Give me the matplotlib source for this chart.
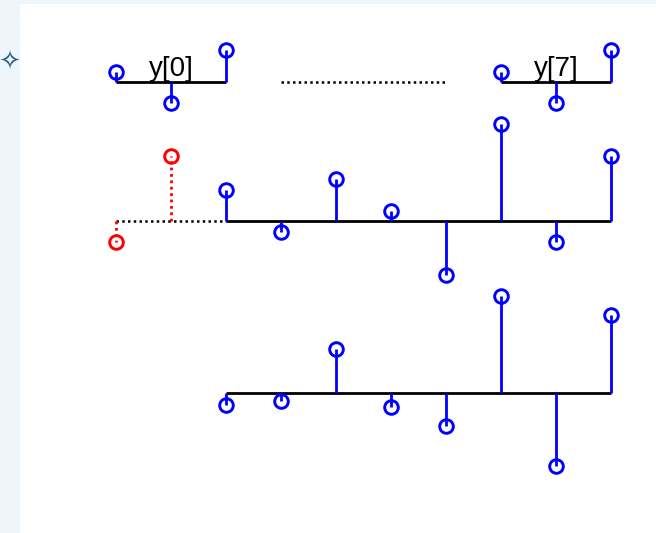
import matplotlib.pyplot as plt
import numpy as np

# sample indices and amplitudes
n_top_a = [0, 1, 2]
n_top_b = [7, 8, 9]
top_vals = [1.0, -2.1, 3.2]
top_labels = ["y[0]", "y[7]"]

n_prev = [0, 1]
prev_vals = [-2.1, 6.5]
n_mid = [2, 3, 4, 5, 6, 7, 8, 9]
mid_vals = [3.1, -1.1, 4.2, 1.0, -5.4, 9.7, -2.1, 6.5]

n_bot = [2, 3, 4, 5, 6, 7, 8, 9]
bot_vals = [-1.2, -0.8, 4.4, -1.4, -3.3, 9.7, -7.3, 7.8]

# row baselines (layout)
base_top, base_mid, base_bot = -8.2, -22.1, -39.3


def tallos(ax, n, vals, base, cor='blue', estilo='-'):
    n = np.array(n)
    y = base + np.array(vals)
    ax.vlines(n, base, y, colors=cor, linestyles=estilo, lw=2.0, zorder=2)
    ax.plot(n, y, 'o', ms=9.8, mfc='none', mec=cor, mew=2.1, zorder=3)


fig = plt.figure(figsize=(6.56, 5.33), dpi=100, facecolor='#eef6fc')
ax = fig.add_axes([20 / 656, 0, 1 - 20 / 656, 1 - 4 / 533])
ax.set_facecolor('white')
# x pixel = 116 + 55*n
ax.set_xlim((20 - 116) / 55, (656 - 116) / 55)
ax.set_ylim(-53.3, -0.4)
ax.set_xticks([])
ax.set_yticks([])
for s in ax.spines.values():
    s.set_visible(False)

pontilhado = (0, (1, 1.3))

# linha de cima
for grupo, lab in zip([n_top_a, n_top_b], top_labels):
    ax.hlines(base_top, grupo[0], grupo[-1], colors='black', lw=2.0, zorder=1)
    tallos(ax, grupo, top_vals, base_top)
    ax.text(grupo[1], base_top + 0.6, lab, ha='center', va='baseline',
            fontsize=20, family='Liberation Sans', zorder=4)
ax.hlines(base_top, 3, 6, colors='black', linestyles=pontilhado, lw=1.8)

# linha do meio
ax.hlines(base_mid, n_prev[0], n_mid[0], colors='black', linestyles=pontilhado, lw=1.8)
ax.hlines(base_mid, n_mid[0], n_mid[-1], colors='black', lw=2.0, zorder=1)
tallos(ax, n_prev, prev_vals, base_mid, cor='red', estilo=pontilhado)
tallos(ax, n_mid, mid_vals, base_mid)

# linha de baixo
ax.hlines(base_bot, n_bot[0], n_bot[-1], colors='black', lw=2.0, zorder=1)
tallos(ax, n_bot, bot_vals, base_bot)

fig.text(10 / 656, 1 - 62 / 533, "\u2727", ha='center', va='center', fontsize=19,
         color='#2a5b8c', family='DejaVu Sans')

fig.savefig('out.png', dpi=100, facecolor=fig.get_facecolor())
